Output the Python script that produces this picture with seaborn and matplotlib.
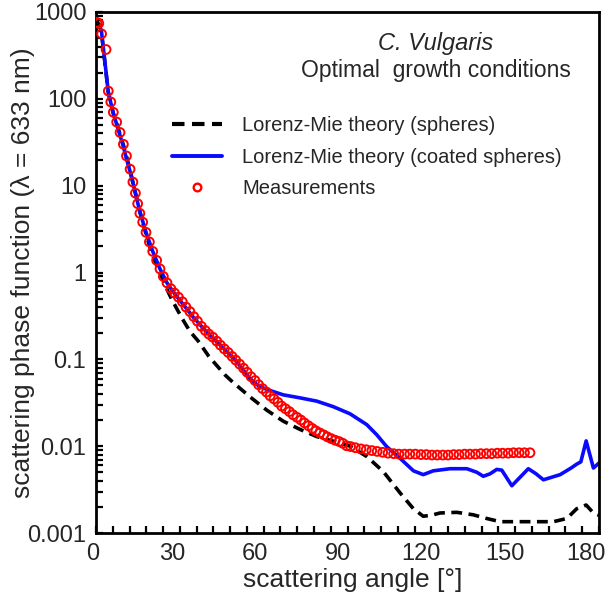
import numpy as np
import pandas as pd
import matplotlib
matplotlib.use("Agg")
import matplotlib.pyplot as plt
import matplotlib.transforms as mtransforms
import seaborn as sns
from matplotlib.lines import Line2D
from matplotlib.ticker import MultipleLocator, LogLocator, FixedLocator, FixedFormatter, NullFormatter

# ---------------- data ----------------
meas_angle = [0.3, 1.0, 2.0, 3.6, 4.4, 5.3, 6.2, 7.4, 8.6, 9.8, 10.9, 12.2, 13.2, 14.1, 14.9,
              15.7, 16.7, 17.9, 19.1, 20.3, 21.7, 22.9, 24.1, 25.4, 26.8, 28.1, 29.5, 30.9,
              32.2, 33.6, 35.0, 36.3, 37.7, 39.1, 40.4, 41.8, 43.2, 44.5, 45.9, 47.3, 48.7,
              50.0, 51.4, 52.8, 54.1, 55.5, 56.9, 58.2, 59.6, 61.0, 62.3, 63.7, 65.1, 66.4,
              67.8, 69.2, 70.5, 71.9, 73.3, 74.6, 76.0, 77.4, 78.7, 80.1, 81.5, 82.8, 84.2,
              85.6, 87.0, 88.3, 89.7, 91.1, 92.8, 94.8, 96.7, 98.7, 100.6, 102.6, 104.5,
              106.5, 108.4, 110.4, 112.3, 114.3, 116.3, 118.2, 120.2, 122.1, 124.1, 126.0,
              128.0, 129.9, 131.9, 133.8, 135.8, 137.7, 139.7, 141.6, 143.6, 145.5, 147.5,
              149.4, 151.4, 153.3, 155.3]
meas_value = [760, 740, 560, 370, 123, 92, 70, 54, 41, 30, 22, 15.5, 11, 8.2, 6.2,
              4.8, 3.8, 2.9, 2.25, 1.75, 1.38, 1.1, 0.9, 0.76, 0.65, 0.58, 0.52, 0.46,
              0.40, 0.355, 0.31, 0.275, 0.24, 0.215, 0.195, 0.18, 0.162, 0.146, 0.132, 0.12, 0.108,
              0.098, 0.088, 0.079, 0.071, 0.063, 0.057, 0.051, 0.046, 0.042, 0.038, 0.035, 0.032, 0.029,
              0.027, 0.025, 0.023, 0.0215, 0.020, 0.0185, 0.0172, 0.016, 0.015, 0.0142, 0.0135, 0.0128, 0.0122,
              0.0117, 0.0113, 0.0108, 0.0101, 0.0099, 0.0096, 0.0093, 0.0091, 0.0089, 0.0087, 0.0085, 0.0083,
              0.0082, 0.0081, 0.0081, 0.0081, 0.0081, 0.0080, 0.0080, 0.0079, 0.0079, 0.0079, 0.0079,
              0.0080, 0.0080, 0.0081, 0.0081, 0.0081, 0.0082, 0.0082, 0.0082, 0.0083, 0.0083, 0.0083,
              0.0084, 0.0084, 0.0084, 0.0084]

coated_angle = [1.9, 4.4, 5.3, 6.2, 7.4, 8.6, 9.8, 10.9, 12.2, 13.2, 14.1, 15.7, 17.9, 20.3,
                22.9, 25.4, 28.1, 30.0, 35.0, 40.0, 45.0, 50.0, 55.1, 58.0, 61.1, 67.0, 73.0,
                79.0, 84.9, 90.9, 96.9, 100.5, 104.0, 108.7, 113.6, 117.1, 120.7, 126.7, 132.7,
                136.3, 138.6, 141.0, 143.4, 145.2, 148.8, 151.5, 154.7, 157.5, 160.1, 166.1,
                170.0, 172.0, 173.5, 175.4, 178.0, 180.0]
coated_value = [620, 120, 90, 68, 51, 38, 28, 20.5, 14.5, 10.8, 8.2, 5.0, 2.9, 1.75,
                1.1, 0.76, 0.57, 0.48, 0.30, 0.20, 0.14, 0.097, 0.06, 0.05, 0.045, 0.039, 0.036,
                0.033, 0.0285, 0.0236, 0.0177, 0.0135, 0.0099, 0.0073, 0.0052, 0.0047, 0.0052, 0.0055, 0.0055,
                0.0050, 0.0045, 0.0048, 0.0054, 0.0053, 0.0035, 0.0043, 0.0055, 0.0048, 0.0041, 0.0047,
                0.0056, 0.0062, 0.0066, 0.0115, 0.0056, 0.0064]

sphere_angle = [0.5, 1.9, 4.4, 6.2, 8.0, 10.0, 12.0, 14.0, 16.0, 18.0, 20.0, 22.0, 24.0, 25.5,
                27.1, 30.7, 33.6, 36.6, 40.3, 43.2, 46.2, 49.1, 55.1, 61.1, 67.0, 73.0, 79.0,
                84.9, 90.9, 96.9, 102.8, 108.8, 113.6, 117.1, 120.0, 123.1, 129.1, 135.0, 139.8,
                144.6, 150.6, 156.5, 163.7, 168.5, 172.0, 175.4, 178.0, 180.0]
sphere_value = [780, 600, 118, 68, 45, 28, 16, 8.5, 4.6, 2.7, 1.65, 1.15, 0.82, 0.63,
                0.49, 0.30, 0.21, 0.162, 0.109, 0.085, 0.066, 0.054, 0.037, 0.026, 0.0194, 0.0156, 0.0129,
                0.0114, 0.0100, 0.0076, 0.0051, 0.0029, 0.0019, 0.00156, 0.0016, 0.0017, 0.00173, 0.00162, 0.00147,
                0.00135, 0.00135, 0.00135, 0.00135, 0.00147, 0.0019, 0.0021, 0.0017, 0.0016]

x_ticks = [0, 30, 60, 90, 120, 150, 180]
y_ticks = [0.001, 0.01, 0.1, 1, 10, 100, 1000]
y_tick_labels = ["0.001", "0.01", "0.1", "1", "10", "100", "1000"]

label_spheres = "Lorenz-Mie theory (spheres)"
label_coated = "Lorenz-Mie theory (coated spheres)"
label_meas = "Measurements"

# ---------------- style ----------------
sns.set_style("ticks")
plt.rcParams["font.family"] = ["Liberation Sans", "DejaVu Sans"]

W, H = 610, 596
fig = plt.figure(figsize=(W / 100, H / 100), dpi=100)
ax_l, ax_r, ax_t, ax_b = 96, 599, 12, 533
ax = fig.add_axes([ax_l / W, 1 - ax_b / H, (ax_r - ax_l) / W, (ax_b - ax_t) / H])

lines_df = pd.concat([
    pd.DataFrame({"angle": sphere_angle, "value": sphere_value, "model": "spheres"}),
    pd.DataFrame({"angle": coated_angle, "value": coated_value, "model": "coated"}),
], ignore_index=True)

sns.lineplot(data=lines_df, x="angle", y="value", hue="model", style="model",
             palette={"spheres": "#000000", "coated": "#0a0aff"},
             dashes={"spheres": (3.0, 1.8), "coated": ""},
             estimator=None, sort=False, linewidth=2.6, legend=False, ax=ax)
for ln in ax.get_lines():
    ln.set_dash_capstyle("butt")

meas_df = pd.DataFrame({"angle": meas_angle, "value": meas_value})
sns.scatterplot(data=meas_df, x="angle", y="value", marker="o", s=40,
                facecolor="none", edgecolor="#ff0000", linewidth=1.4, ax=ax, zorder=3)

ax.set_yscale("log")
ax.set_xlim(0, 180)
ax.set_ylim(0.001, 1000)

ax.xaxis.set_major_locator(FixedLocator(x_ticks))
ax.xaxis.set_minor_locator(MultipleLocator(6))
ax.yaxis.set_major_locator(FixedLocator(y_ticks))
ax.yaxis.set_major_formatter(FixedFormatter(y_tick_labels))
ax.yaxis.set_minor_locator(LogLocator(base=10, subs=np.arange(2, 10)))
ax.yaxis.set_minor_formatter(NullFormatter())

ax.tick_params(axis="both", which="both", direction="in", color="black", width=1.6)
ax.tick_params(axis="both", which="major", length=5, labelsize=17)
ax.tick_params(axis="both", which="minor", length=5)
ax.tick_params(axis="x", which="major", pad=7)
ax.tick_params(axis="y", which="major", pad=7)

# the x tick labels of the reference sit slightly left of their ticks
x_label_shift_px = [-3, -8, -9, -10, -10, -10, -13]
fig.canvas.draw()
for lab, dx in zip(ax.get_xticklabels(), x_label_shift_px):
    lab.set_transform(lab.get_transform() +
                      mtransforms.ScaledTranslation(dx / 100, 0, fig.dpi_scale_trans))

for sp in ax.spines.values():
    sp.set_linewidth(2.0)
    sp.set_color("black")
    sp.set_visible(True)

ax.set_xlabel("scattering angle [°]", fontsize=19)
ax.set_ylabel("scattering phase function (λ = 633 nm)", fontsize=19)
ax.xaxis.set_label_coords(0.51, -0.068)
ax.yaxis.set_label_coords(-0.122, 0.5)

ax.text(0.676, 0.94, "C. Vulgaris", transform=ax.transAxes, fontsize=17,
        style="italic", ha="center", va="center")
ax.text(0.676, 0.887, "Optimal  growth conditions", transform=ax.transAxes, fontsize=16.5,
        ha="center", va="center")

handles = [
    Line2D([], [], color="black", lw=3.0, dashes=(3.0, 1.8), dash_capstyle="butt"),
    Line2D([], [], color="#0a0aff", lw=2.8),
    Line2D([], [], color="#ff0000", lw=0, marker="o", markersize=5.5,
           markerfacecolor="none", markeredgewidth=1.7),
]
leg = ax.legend(handles, [label_spheres, label_coated, label_meas],
                loc="upper left", bbox_to_anchor=(0.151, 0.800), frameon=False,
                fontsize=14.5, handlelength=2.5, handletextpad=1.0,
                labelspacing=0.62, borderpad=0, borderaxespad=0)

fig.savefig("out.png", dpi=100)
